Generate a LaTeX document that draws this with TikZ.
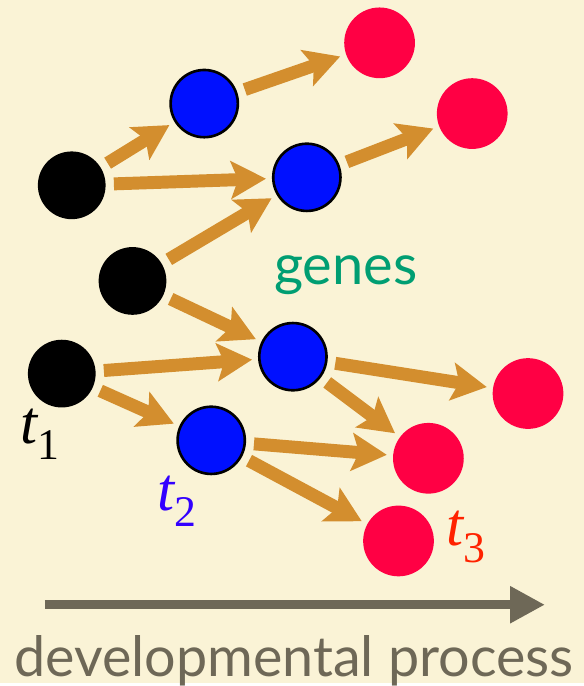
\documentclass[tikz,border=0pt]{standalone}
\usepackage{fontspec}
\setsansfont{Lato}
\newfontfamily\timesfont{Liberation Serif}
\usepackage{tikz}
\usetikzlibrary{arrows.meta}
\definecolor{paper}{HTML}{FAF3D6}
\definecolor{arrowgold}{HTML}{D38E2E}
\definecolor{geneblue}{HTML}{0010FF}
\definecolor{genered}{HTML}{FF0044}
\definecolor{genegreen}{HTML}{009E72}
\definecolor{devgray}{HTML}{6E6857}
\definecolor{tblue}{HTML}{3300FF}
\definecolor{tred}{HTML}{FF2200}
\newcommand{\tstage}[1]{{\timesfont\itshape t}\raisebox{-9.5pt}{\timesfont\upshape\fontsize{25}{25}\selectfont #1}}

\begin{document}
\begin{tikzpicture}[x=0.02cm,y=-0.02cm,
  early/.style={circle,fill=black,minimum size=1.36cm,inner sep=0pt},
  middle/.style={circle,fill=geneblue,draw=black,line width=1.5pt,minimum size=1.35cm,inner sep=0pt},
  late/.style={circle,fill=genered,minimum size=1.42cm,inner sep=0pt},
  regarrow/.style={draw=arrowgold,line width=0.26cm,
    -{Stealth[length=0.7cm,width=0.75cm,inset=0.14cm]},
    shorten <=0.16cm,shorten >=0.12cm},
  tlabel/.style={anchor=base west,font=\timesfont\fontsize{35}{40}\selectfont,inner sep=0pt}]
  % background
  \fill[paper] (0,0) rectangle (586,686);
  % genes at t1
  \node[early] (e1) at (72,186) {};
  \node[early] (e2) at (133,282) {};
  \node[early] (e3) at (62,375) {};
  % genes at t2
  \node[middle] (m1) at (205,104) {};
  \node[middle] (m2) at (308,178) {};
  \node[middle] (m3) at (294,358) {};
  \node[middle] (m4) at (212,442) {};
  % genes at t3
  \node[late] (l1) at (381,43) {};
  \node[late] (l2) at (474,114) {};
  \node[late] (l3) at (530,395) {};
  \node[late] (l4) at (430,460) {};
  \node[late] (l5) at (400,543) {};
  % regulation
  \foreach \a/\b in {e1/m1,e1/m2,e2/m2,e2/m3,e3/m3,e3/m4,
                     m1/l1,m2/l2,m3/l3,m3/l4,m4/l4,m4/l5}
    \draw[regarrow] (\a) -- (\b);
  % labels
  \node[tlabel,text=black] (t1) at (20,445) {\tstage{1}};
  \node[tlabel,text=tblue] (t2) at (158,512) {\tstage{2}};
  \node[tlabel,text=tred] (t3) at (448,548) {\tstage{3}};
  \node[anchor=base,inner sep=0pt,text=genegreen,
        font=\sffamily\fontsize{32}{38}\selectfont] (geneslabel) at (347,286) {genes};
  % time axis
  \coordinate (devstart) at (45,607);
  \coordinate (devend) at (547,607);
  \draw[devgray,line width=0.18cm,-{Triangle[length=0.7cm,width=0.7cm]}] (devstart) -- (devend);
  \node[anchor=base,inner sep=0pt,text=devgray,
        font=\sffamily\fontsize{31.8}{36}\selectfont] (devlabel) at (295,679) {developmental process};
\end{tikzpicture}
\end{document}
